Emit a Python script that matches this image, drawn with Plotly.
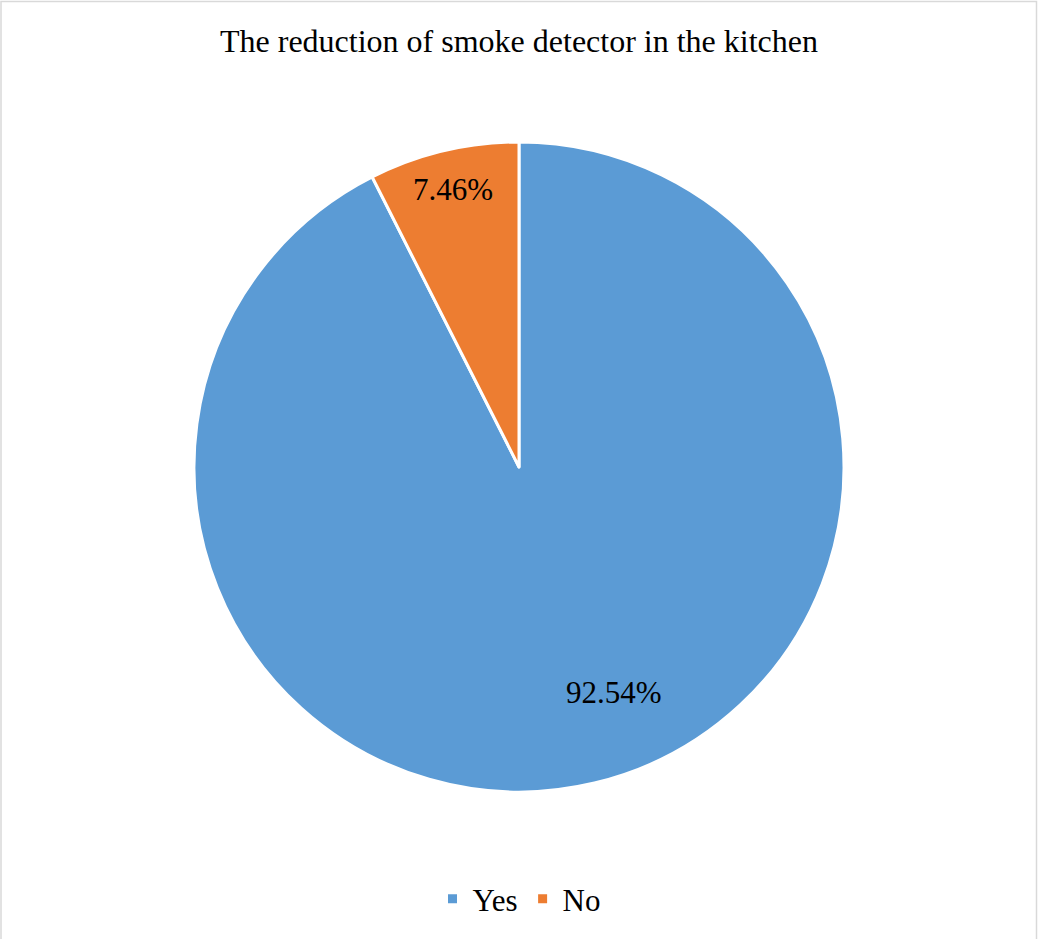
import plotly.graph_objects as go

# Survey answers and their shares (percent)
labels = ["Yes", "No"]
shares = [92.54, 7.46]
colors = ["#5B9BD5", "#ED7D31"]
title_text = "The reduction of smoke detector in the kitchen"

W, H = 1038, 939
FONT = "Liberation Serif, Times New Roman, serif"

fig = go.Figure(
    go.Pie(
        labels=labels,
        values=shares,
        sort=False,
        direction="clockwise",
        rotation=0,
        marker=dict(colors=colors, line=dict(color="white", width=3)),
        textinfo="none",
        hoverinfo="label+percent",
        domain=dict(x=[0.1869, 0.8131], y=[0.1566, 0.8488]),
    )
)

# Percentage labels placed over each slice
label_pos = {"No": (0.4364, 0.7977), "Yes": (0.5915, 0.263)}
for lab, val in zip(labels, shares):
    x, y = label_pos[lab]
    fig.add_annotation(
        x=x, y=y, xref="paper", yref="paper",
        text=f"{val:.2f}%", showarrow=False,
        font=dict(family=FONT, size=31, color="#000000"),
        xanchor="center", yanchor="middle",
    )

fig.update_layout(
    width=W, height=H,
    margin=dict(l=0, r=0, t=0, b=0),
    paper_bgcolor="white",
    plot_bgcolor="white",
    title=dict(
        text=title_text, x=0.5, xanchor="center",
        y=1 - 41 / H, yanchor="middle", yref="paper",
        font=dict(family=FONT, size=32, color="#000000"),
    ),
    legend=dict(
        orientation="h", x=0.5, xanchor="center",
        y=1 - 899 / H, yanchor="middle",
        font=dict(family=FONT, size=31, color="#000000"),
        itemwidth=30,
    ),
    shapes=[
        dict(type="rect", xref="paper", yref="paper",
             x0=1 / W, x1=(W - 1.5) / W, y0=-0.02, y1=1 - 1.5 / H,
             line=dict(color="#d9d9d9", width=1.5), fillcolor="rgba(0,0,0,0)")
    ],
)

fig.write_html("out.html")
